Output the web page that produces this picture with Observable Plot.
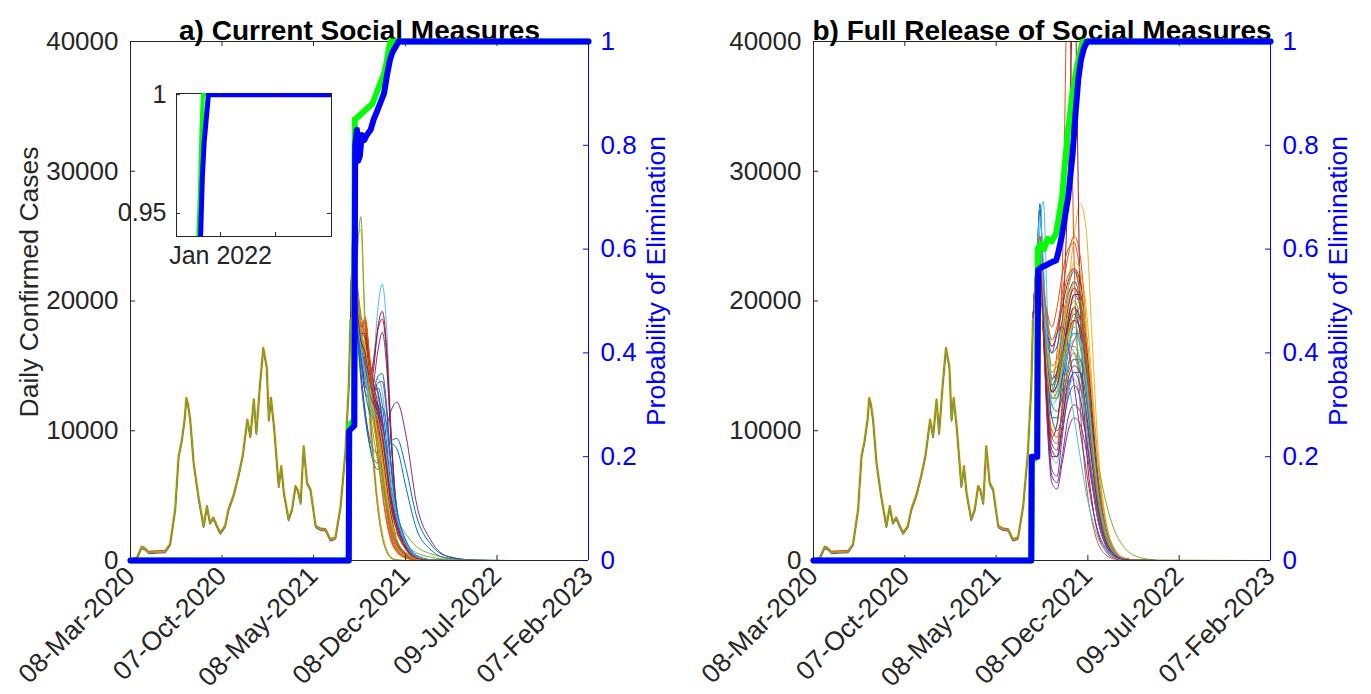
<!DOCTYPE html>
<html><head><meta charset="utf-8">
<script src="https://cdn.jsdelivr.net/npm/d3@7"></script>
<script src="https://cdn.jsdelivr.net/npm/@observablehq/plot@0.6"></script>
<style>
body{margin:0;background:#fff;}
#fig{position:relative;width:1371px;height:694px;overflow:hidden;background:#fff;}
#fig svg{position:absolute;}
</style></head><body><div id="fig"></div>
<script>
// ---------- data ----------
const startDay = "2020-03-08";
const endDay = "2023-02-07";
const xTickDates = ["2020-03-08","2020-10-07","2021-05-08","2021-12-08","2022-07-09","2023-02-07"];
const yTicksCases = [0,10000,20000,30000,40000];
const yTicksProb = [0,0.2,0.4,0.6,0.8,1];
const titles = ["a) Current Social Measures","b) Full Release of Social Measures"];
const yLabelLeft = "Daily Confirmed Cases";
const yLabelRight = "Probability of Elimination";
const palette = ["#0072BD","#D95319","#EDB120","#7E2F8E","#77AC30","#4DBEEE","#A2142F"];

// observed history (days since 08-Mar-2020, daily cases)
const histDay = [3,15,26,33,42,60,81,92,104,112,119,126,130,134,139,147,158,170,178,185,193,200,209,220,228,240,251,261,272,279,287,293,301,309,317,322,327,334,345,351,357,368,376,384,389,396,403,411,419,431,442,454,465,477,489,500,508,512];
const histCases = [0,170,1000,900,600,650,680,1190,3880,7980,9140,10800,12480,12000,10800,7480,4900,2600,4140,2860,3250,2700,2090,2600,3880,5000,6450,8000,10800,9520,12350,9780,13370,16320,14900,10800,12480,10290,5680,7220,5170,3120,3880,5680,5420,4400,8750,5940,5420,2600,2400,2350,1580,1710,4140,8250,13370,18500];

// projections, panel a (values at projDaysA)
const projDaysA = [512,518,526,536,546,556,566,576,586,596,606,620,642,665,700,740,800,880,1066];
const projA = [
 [18500,23500,19500,16500,14000,12800,13200,14200,14400,12000,7500,3500,1100,250,30,0,0,0,0],
 [18500,24500,21000,18000,18600,15500,12000,8500,5500,3200,1700,700,200,40,0,0,0,0,0],
 [18500,25000,21500,18500,17000,12500,8000,4500,2200,900,300,60,0,0,0,0,0,0,0],
 [18500,23000,19000,15500,13000,12500,13800,16200,17600,15000,9500,3800,1000,200,20,0,0,0,0],
 [18500,24000,20000,16500,14500,12500,11000,9500,8000,6500,5000,3300,2000,1100,500,200,50,0,0],
 [18500,24000,20500,17000,14000,13500,15500,19500,21300,18000,10500,4000,1000,200,20,0,0,0,0],
 [18500,23800,20000,16500,13500,13000,14800,18000,19200,16500,10000,3800,1000,200,20,0,0,0,0],
 [18500,23000,18500,14500,11500,9000,7500,7000,7500,8500,9200,9400,7000,3500,1200,300,30,0,0],
 [18500,24000,20500,17500,18800,16000,13000,9500,6500,3800,2000,800,250,50,0,0,0,0,0],
 [18500,22500,24500,25500,17500,14500,11500,8500,5500,3000,1500,600,150,30,0,0,0,0,0],
 [18500,22800,18500,14500,11500,9500,8500,8300,9000,10300,11500,12200,9500,4500,1500,300,30,0,0],
 [18500,22000,23000,26500,18500,14000,11500,9000,6500,4200,2400,1100,400,100,20,0,0,0,0],
 [18500,23500,19500,16500,15500,14000,13000,11500,8800,6000,3800,2500,900,200,20,0,0,0,0],
 [18500,23500,19500,16000,14000,13800,15500,17800,18600,16000,9800,3600,900,150,10,0,0,0,0],
 [18500,23000,18500,14000,11000,9000,7800,7500,8000,8700,9000,8600,5500,2500,800,150,0,0,0],
 [18500,25500,22000,19000,17000,12000,7500,4000,1800,700,200,40,0,0,0,0,0,0,0],
 [18500,24000,20500,17500,16000,13500,11800,10500,8500,6000,4000,2800,1000,250,30,0,0,0,0],
 [18500,23500,19500,16500,14500,13000,13000,13700,13800,11500,7500,3200,900,200,20,0,0,0,0],
 [18500,24000,20500,17500,15500,13000,11000,9000,7000,5000,3000,1400,500,120,15,0,0,0,0],
 [18500,23500,19500,16500,14000,12800,13000,12500,10500,7500,4800,3000,1100,250,30,0,0,0,0],
 [18500,24000,20000,17500,17200,14500,12500,11000,9000,6500,3800,1600,500,100,10,0,0,0,0],
 [18500,23500,19500,16500,14500,13200,13000,13300,12000,9000,5800,3500,1300,300,40,0,0,0,0],
 [18500,24500,21000,18000,18300,15500,12500,9500,7000,4500,2500,1000,300,60,0,0,0,0,0],
 [18500,24000,20500,17000,16000,13500,11500,10000,8000,5500,3000,1200,350,70,0,0,0,0,0],
 [18500,23500,19500,16500,15000,13500,12500,12000,10800,8000,5300,3300,1200,280,30,0,0,0,0],
 [18500,25000,21500,18500,15500,11000,7000,3800,1800,700,200,40,0,0,0,0,0,0,0],
 [18500,24000,20000,17000,15500,13000,11000,9500,7500,5000,2800,1100,300,60,0,0,0,0,0],
 [18500,23500,19500,16500,16500,14800,13000,11500,9500,7000,4500,2800,1000,220,25,0,0,0,0],
 [18500,23500,19500,16500,14500,13300,13500,12800,10800,8000,5200,3000,1000,220,25,0,0,0,0],
 [18500,24000,20500,17500,17800,15000,12000,9000,6500,4000,2200,900,250,50,0,0,0,0,0],
 [18500,24000,20000,17000,15000,12500,10500,8800,7000,4800,2700,1100,300,60,0,0,0,0,0],
 [18500,23500,19500,16500,15500,14000,12800,11800,10000,7200,4400,2700,900,200,20,0,0,0,0],
 [18500,24000,20500,17500,16500,14000,12000,10000,7800,5200,3000,1200,350,70,0,0,0,0,0],
 [18500,23500,19500,16500,15000,13500,12000,11200,9500,7000,4500,3000,1100,250,30,0,0,0,0],
 [18500,24000,20500,17000,16000,14000,12200,10500,8500,6000,3500,1400,400,80,10,0,0,0,0],
 [18500,23500,19500,16500,15000,13500,12500,11500,10000,7800,5200,3200,1400,400,60,0,0,0,0],
 [18500,24500,21000,18200,18000,15000,11500,8000,5200,3000,1600,700,200,40,0,0,0,0,0],
 [18500,24000,20500,17500,16500,14000,12500,11000,9000,6500,4000,2200,800,180,20,0,0,0,0],
 [18500,23500,19500,16500,15500,14500,14000,13000,11000,8000,5000,2800,1000,250,30,0,0,0,0],
 [18500,24000,20500,17000,15000,12000,9500,7500,5800,4200,3000,2000,1200,600,250,80,10,0,0],
 [18500,23500,19500,16500,14500,13500,13500,14000,13000,10000,6500,3500,1200,280,30,0,0,0,0],
 [18500,24000,20500,17500,17500,15500,13500,12000,10000,7500,4800,2600,900,200,20,0,0,0,0],
 [18500,23000,19000,15500,13000,11500,11000,11500,11800,10500,7500,4000,1500,400,50,0,0,0,0],
 [18500,24500,21000,18000,18500,15800,12800,9800,7000,4500,2600,1200,400,80,0,0,0,0,0],
 [18500,24000,20500,17500,16500,13800,11500,9500,7500,5200,3200,1600,550,120,10,0,0,0,0],
 [18500,23500,19500,16500,15000,13000,12000,11500,10500,8300,5600,3200,1200,300,40,0,0,0,0],
 [18500,24000,20500,17500,16000,13000,10500,8500,6500,4500,2800,1500,600,200,60,10,0,0,0],
 [18500,23500,19500,16500,14500,12500,11500,11000,10000,8000,5500,3300,1300,350,40,0,0,0,0],
 [18500,24000,20000,17000,16000,14000,12500,11200,9500,7000,4300,2300,800,180,20,0,0,0,0]
];

// projections, panel b (values at projDaysB)
const projDaysB = [512,520,528,536,546,556,568,580,594,608,622,636,650,664,680,700,725,755,800,1066];
const projB = [
 [18500,22000,24000,19000,15000,13000,14500,18000,21000,22300,20500,15500,10000,5500,2500,800,150,20,0,0],
 [18500,22500,23000,18500,15000,14000,16000,22000,46000,23000,12000,6000,3000,1300,500,120,20,0,0,0],
 [18500,21500,22000,18500,15000,13500,14500,17000,21000,25000,27500,25500,17000,8500,3500,1000,200,30,0,0],
 [18500,22000,23500,19000,13000,9000,8500,12000,17500,19500,17500,13000,8000,4000,1700,500,80,10,0,0],
 [18500,22000,25000,20500,16500,14000,14500,15500,16500,16500,15500,13500,10500,7500,4800,2500,1000,300,40,0],
 [18500,21000,25500,27700,19000,13500,12500,14500,16500,16000,13500,9500,5800,3000,1200,350,60,0,0,0],
 [18500,22000,23000,18500,15000,13500,14500,18000,29000,45000,20000,9000,4500,2000,800,200,30,0,0,0],
 [18500,22500,27000,22500,16000,12500,13000,15500,18500,20500,19500,15000,9500,4800,2000,600,100,10,0,0],
 [18500,23000,24500,21000,19000,18000,19500,22000,24000,24500,22000,16500,10500,5500,2300,700,120,10,0,0],
 [18500,22000,23500,19000,15500,13500,14000,16500,19500,21500,22000,19500,13500,7500,3200,1000,180,20,0,0],
 [18500,21500,22500,17500,11000,7000,6500,9500,13000,14500,13500,11000,7500,4000,1700,500,80,10,0,0],
 [18500,22500,23500,19000,15000,13000,13500,15500,17500,18500,18000,15500,11000,6500,3000,900,150,20,0,0],
 [18500,22000,24500,20000,16000,14000,14500,16500,18500,18500,16500,12500,8000,4200,1800,550,90,10,0,0],
 [18500,22500,23500,20000,17500,16500,17500,19500,21500,22500,21500,17500,11500,6200,2700,850,150,20,0,0],
 [18500,22000,27500,21500,14500,11000,11000,13000,16000,18500,19500,17500,12500,7000,3000,900,150,20,0,0],
 [18500,23000,25000,21500,18000,16500,17500,20500,23500,25000,23500,18000,11000,5800,2500,750,120,10,0,0],
 [18500,22000,23000,18000,12500,10000,10500,13500,17000,18500,18000,15500,11000,6300,2800,850,140,20,0,0],
 [18500,22500,24000,19500,15500,13500,14000,16000,18000,19000,17500,13500,8500,4500,1900,600,100,10,0,0],
 [18500,22000,22500,18500,15500,14500,15000,16000,17000,17500,16500,13500,9500,5200,2300,700,110,10,0,0],
 [18500,21500,23000,18000,12000,8000,7500,10000,13000,14000,12500,9500,6000,3100,1300,400,60,0,0,0],
 [18500,22500,24000,20000,16000,14000,14500,16500,19500,21000,20000,15500,10000,5300,2300,700,110,10,0,0],
 [18500,22000,23500,19000,14500,12000,11500,12500,14500,15500,15500,13500,10000,6000,2800,900,160,20,0,0],
 [18500,23000,24500,20500,17000,15000,15500,17500,20000,21000,19500,14500,9000,4800,2000,600,100,10,0,0],
 [18500,22000,23000,19000,15000,13000,13000,14500,17000,18500,19000,17000,12500,7200,3300,1000,180,20,0,0],
 [18500,22500,23500,18000,10500,6500,6000,8000,11000,12000,11500,9500,6500,3500,1500,450,70,0,0,0],
 [18500,22000,24000,19500,15500,13500,14000,16500,19000,20000,18500,14000,8800,4600,2000,600,100,10,0,0],
 [18500,22500,24500,20000,16000,13500,13000,14000,16000,17000,17000,15000,11000,6500,3000,950,170,20,0,0],
 [18500,22000,23000,18000,12000,9500,10500,14000,18000,19500,18500,14500,9500,5000,2200,650,110,10,0,0],
 [18500,22500,24000,19500,15000,12500,12500,14000,16500,17500,17500,15000,10500,6000,2700,850,150,20,0,0],
 [18500,22000,23500,18500,12500,9500,9000,11500,15000,16000,14500,10500,6500,3300,1400,420,70,0,0,0],
 [18500,22500,24000,20000,16500,14500,15000,17000,20000,21500,21000,17000,11500,6300,2800,850,150,20,0,0],
 [18500,22000,23000,17500,10000,6000,5500,7500,10000,11000,10500,8500,5800,3000,1300,400,60,0,0,0],
 [18500,22500,23500,19000,15000,13000,13500,15000,17500,19000,18500,14500,9500,5100,2200,680,110,10,0,0],
 [18500,22000,26500,23000,15500,12000,12500,15000,17500,17500,15000,10500,6300,3200,1400,420,70,0,0,0],
 [18500,22500,23500,19000,15000,13000,13500,15000,17500,18500,18000,15000,10500,6000,2700,850,150,20,0,0],
 [18500,22000,24000,20500,17500,16000,16500,18500,20500,21500,20000,15500,10000,5200,2200,650,110,10,0,0],
 [18500,22500,23000,18500,13000,10000,9500,11500,15000,17000,17500,15500,11500,6800,3100,950,170,20,0,0],
 [18500,22000,23500,19500,16000,14500,15500,18000,21000,23000,22500,18000,12000,6500,2800,850,150,20,0,0],
 [18500,22500,24000,19500,16500,16000,17500,18000,16500,13500,10000,7000,4200,2200,1000,300,50,0,0,0],
 [18500,22000,23000,18500,14500,12500,12500,13500,15000,15500,14500,11500,7800,4200,1900,600,100,10,0,0],
 [18500,21500,24000,20500,17500,17000,17500,16500,14000,11000,8000,5200,3200,1700,800,250,40,0,0,0],
 [18500,22500,23500,19000,15000,13000,13500,15500,18500,20500,20500,17000,11500,6500,2900,900,160,20,0,0],
 [18500,22000,24500,20000,14500,11000,10000,11000,13500,14500,14500,12500,9000,5200,2300,700,120,10,0,0],
 [18500,23000,25000,21500,18500,17000,18000,20000,22000,22500,20500,15500,9800,5100,2200,650,110,10,0,0],
 [18500,22000,23000,18500,14500,12500,13000,15000,17500,19500,20000,17500,12500,7000,3100,950,170,20,0,0],
 [18500,22500,23500,19000,12000,8500,8000,10000,12500,13500,12500,9500,6200,3300,1400,420,70,0,0,0],
 [18500,22000,24000,19500,15500,13500,14000,15500,17500,18000,17000,13500,9000,4900,2100,650,110,10,0,0],
 [18500,22500,24500,20500,16500,14000,13500,14500,16500,17500,17000,14000,9500,5300,2400,750,130,10,0,0],
 [18500,22000,23000,18500,11500,8000,8000,10500,14000,15000,14500,11500,7500,4000,1700,520,90,10,0,0]
];

// probability of elimination [day, p]
const blueA = [[0,0],[508,0],[509,0.25],[521,0.26],[523,0.8],[527,0.83],[530,0.77],[534,0.78],[538,0.82],[544,0.81],[550,0.82],[559,0.83],[566,0.85],[574,0.866],[582,0.883],[590,0.9],[597,0.935],[604,0.965],[610,0.98],[617,0.99],[624,1],[1066,1]];
const greenA = [[0,0],[508,0],[509,0.26],[520,0.27],[522,0.85],[530,0.855],[543,0.865],[563,0.88],[578,0.912],[590,0.937],[596,0.96],[601,0.985],[606,1],[1066,1]];
const blueB = [[0,0],[508,0],[509,0.2],[522,0.2],[524,0.56],[532,0.565],[545,0.57],[556,0.575],[566,0.578],[570,0.59],[578,0.62],[586,0.66],[594,0.7],[604,0.78],[612,0.87],[618,0.93],[624,0.965],[630,0.985],[638,1],[1066,1]];
const greenB = [[0,0],[508,0],[509,0.19],[521,0.2],[523,0.6],[530,0.61],[538,0.6],[546,0.62],[556,0.615],[566,0.63],[572,0.66],[580,0.7],[586,0.76],[594,0.83],[604,0.9],[614,0.95],[622,0.98],[628,1],[1066,1]];

// inset (panel a)
const insetDomain = ["2021-08-09","2023-01-01"];
const insetXTicks = ["2022-01-01","2022-07-01"];
const insetYTicks = [0.95,1];
const insetYDomain = [0.9403,1.0005];

// ---------- rendering ----------
const parse = s => new Date(s + "T00:00:00Z");
const startDate = parse(startDay), endDate = parse(endDay);
const toDate = day => new Date(startDate.getTime() + day * 864e5);
const xTicks = xTickDates.map(parse);
const fmtTick = d3.utcFormat("%d-%b-%Y");
const FONT = "'Liberation Sans', Arial, Helvetica, sans-serif";
const INK = "#262626";
const BLUE = "#0000FF", GREEN = "#00FF00";
const fig = document.getElementById("fig");
function place(svg, left, top){ svg.style.left = left + "px"; svg.style.top = top + "px"; fig.appendChild(svg); }

const histRows = histDay.map((d,i) => ({date: toDate(d), cases: histCases[i]}));
const probRows = arr => arr.map(([d,p]) => ({date: toDate(d), p}));

function panel(k, cfg){
  const W = cfg.width, ml = 130, mr = cfg.marginRight, mt = 41, mb = 134, H = 694;
  const fw = W - ml - mr, fh = H - mt - mb;
  const style = {background: "transparent", fontFamily: FONT, overflow: "visible"};
  const dims = {width: W, height: H, marginLeft: ml, marginRight: mr, marginTop: mt, marginBottom: mb};
  const projRows = cfg.proj.flatMap((vals, run) => vals.map((v, i) => ({date: toDate(cfg.days[i]), cases: v, run})));
  const cases = Plot.plot({...dims, style,
    x: {type: "utc", domain: [startDate, endDate]},
    y: {domain: [0, 40000]},
    color: {type: "ordinal", domain: d3.range(7), range: palette},
    marks: [
      Plot.ruleY([0], {stroke: INK}),
      Plot.line(projRows, {x: "date", y: "cases", z: "run", stroke: d => d.run % 7, strokeWidth: 1, curve: "monotone-x", clip: true}),
      Plot.line(histRows, {x: "date", y: "cases", stroke: palette[2], strokeWidth: 2.6, dy: -0.6}),
      Plot.line(histRows, {x: "date", y: "cases", stroke: palette[1], strokeWidth: 1, dy: -1.3}),
      Plot.line(histRows, {x: "date", y: "cases", stroke: palette[3], strokeWidth: 1, dy: 1.1}),
      Plot.line(histRows, {x: "date", y: "cases", stroke: palette[4], strokeWidth: 1.3}),
      Plot.ruleX([startDate], {stroke: INK}),
      Plot.ruleY([40000], {stroke: INK}),
      Plot.tickX(xTicks, {x: d => d, insetTop: fh - 5, stroke: INK}),
      Plot.tickX(xTicks, {x: d => d, insetBottom: fh - 5, stroke: INK}),
      Plot.tickY(yTicksCases, {y: d => d, insetRight: fw - 5, stroke: INK}),
      Plot.axisX({ticks: xTicks, tickFormat: fmtTick, tickRotate: -45, tickSize: 0, tickPadding: 11, fontSize: 26.5, color: INK, label: null}),
      Plot.axisY({ticks: yTicksCases, tickFormat: d => String(d), tickSize: 0, tickPadding: 12, fontSize: 26, color: INK, label: null}),
      Plot.text([titles[k]], {text: d => d, frameAnchor: "top", textAnchor: "middle", dy: -21, fontSize: 28, fontWeight: "bold", fill: "#000"}),
      k === 0 ? Plot.text([yLabelLeft], {text: d => d, frameAnchor: "left", textAnchor: "middle", rotate: -90, dx: -101, dy: -19, fontSize: 26.5, fill: INK}) : null
    ]});
  const prob = Plot.plot({...dims, style,
    x: {type: "utc", domain: [startDate, endDate], axis: null},
    y: {domain: [0, 1], axis: null},
    marks: [
      Plot.line(probRows(cfg.green), {x: "date", y: "p", stroke: GREEN, strokeWidth: 6}),
      Plot.line(probRows(cfg.blue), {x: "date", y: "p", stroke: BLUE, strokeWidth: 6}),
      Plot.ruleX([endDate], {stroke: BLUE}),
      Plot.tickY(yTicksProb, {y: d => d, insetLeft: fw - 5, stroke: BLUE}),
      Plot.axisY({anchor: "right", ticks: yTicksProb, tickFormat: d => String(d), tickSize: 0, tickPadding: 12, fontSize: 26, color: BLUE, label: null}),
      Plot.text([yLabelRight], {text: d => d, frameAnchor: "right", textAnchor: "middle", rotate: -90, dx: 68, dy: -20, fontSize: 26.5, fill: BLUE})
    ]});
  place(cases, cfg.left, 0);
  place(prob, cfg.left, 0);
}

panel(0, {width: 685, marginRight: 97, left: 0, proj: projA, days: projDaysA, blue: blueA, green: greenA});

// inset
{
  const iW = 225, iH = 216, iml = 56, imt = 33, imr = 14, imb = 40;
  const ifw = iW - iml - imr, ifh = iH - imt - imb;
  const ixt = insetXTicks.map(parse);
  const inset = Plot.plot({width: iW, height: iH, marginLeft: iml, marginTop: imt, marginRight: imr, marginBottom: imb,
    x: {type: "utc", domain: insetDomain.map(parse)},
    y: {domain: insetYDomain},
    style: {background: "transparent", fontFamily: FONT, overflow: "visible"},
    marks: [
      Plot.frame({stroke: INK}),
      Plot.line(probRows(greenA), {x: "date", y: "p", stroke: GREEN, strokeWidth: 4, clip: true}),
      Plot.line(probRows(blueA), {x: "date", y: "p", stroke: BLUE, strokeWidth: 5, clip: true}),
      Plot.tickX(ixt, {x: d => d, insetTop: ifh - 4, stroke: INK}),
      Plot.tickX(ixt, {x: d => d, insetBottom: ifh - 4, stroke: INK}),
      Plot.tickY(insetYTicks, {y: d => d, insetRight: ifw - 4, stroke: INK}),
      Plot.tickY(insetYTicks, {y: d => d, insetLeft: ifw - 4, stroke: INK}),
      Plot.axisY({ticks: insetYTicks, tickFormat: d => String(d), tickSize: 0, tickPadding: 10, fontSize: 25, color: INK, label: null}),
      Plot.axisX({ticks: [ixt[0]], tickFormat: d3.utcFormat("%b %Y"), tickSize: 0, tickPadding: 10, fontSize: 25, color: INK, label: null})
    ]});
  place(inset, 120, 60);
}

panel(1, {width: 688, marginRight: 101, left: 683, proj: projB, days: projDaysB, blue: blueB, green: greenB});
</script>
</body></html>
